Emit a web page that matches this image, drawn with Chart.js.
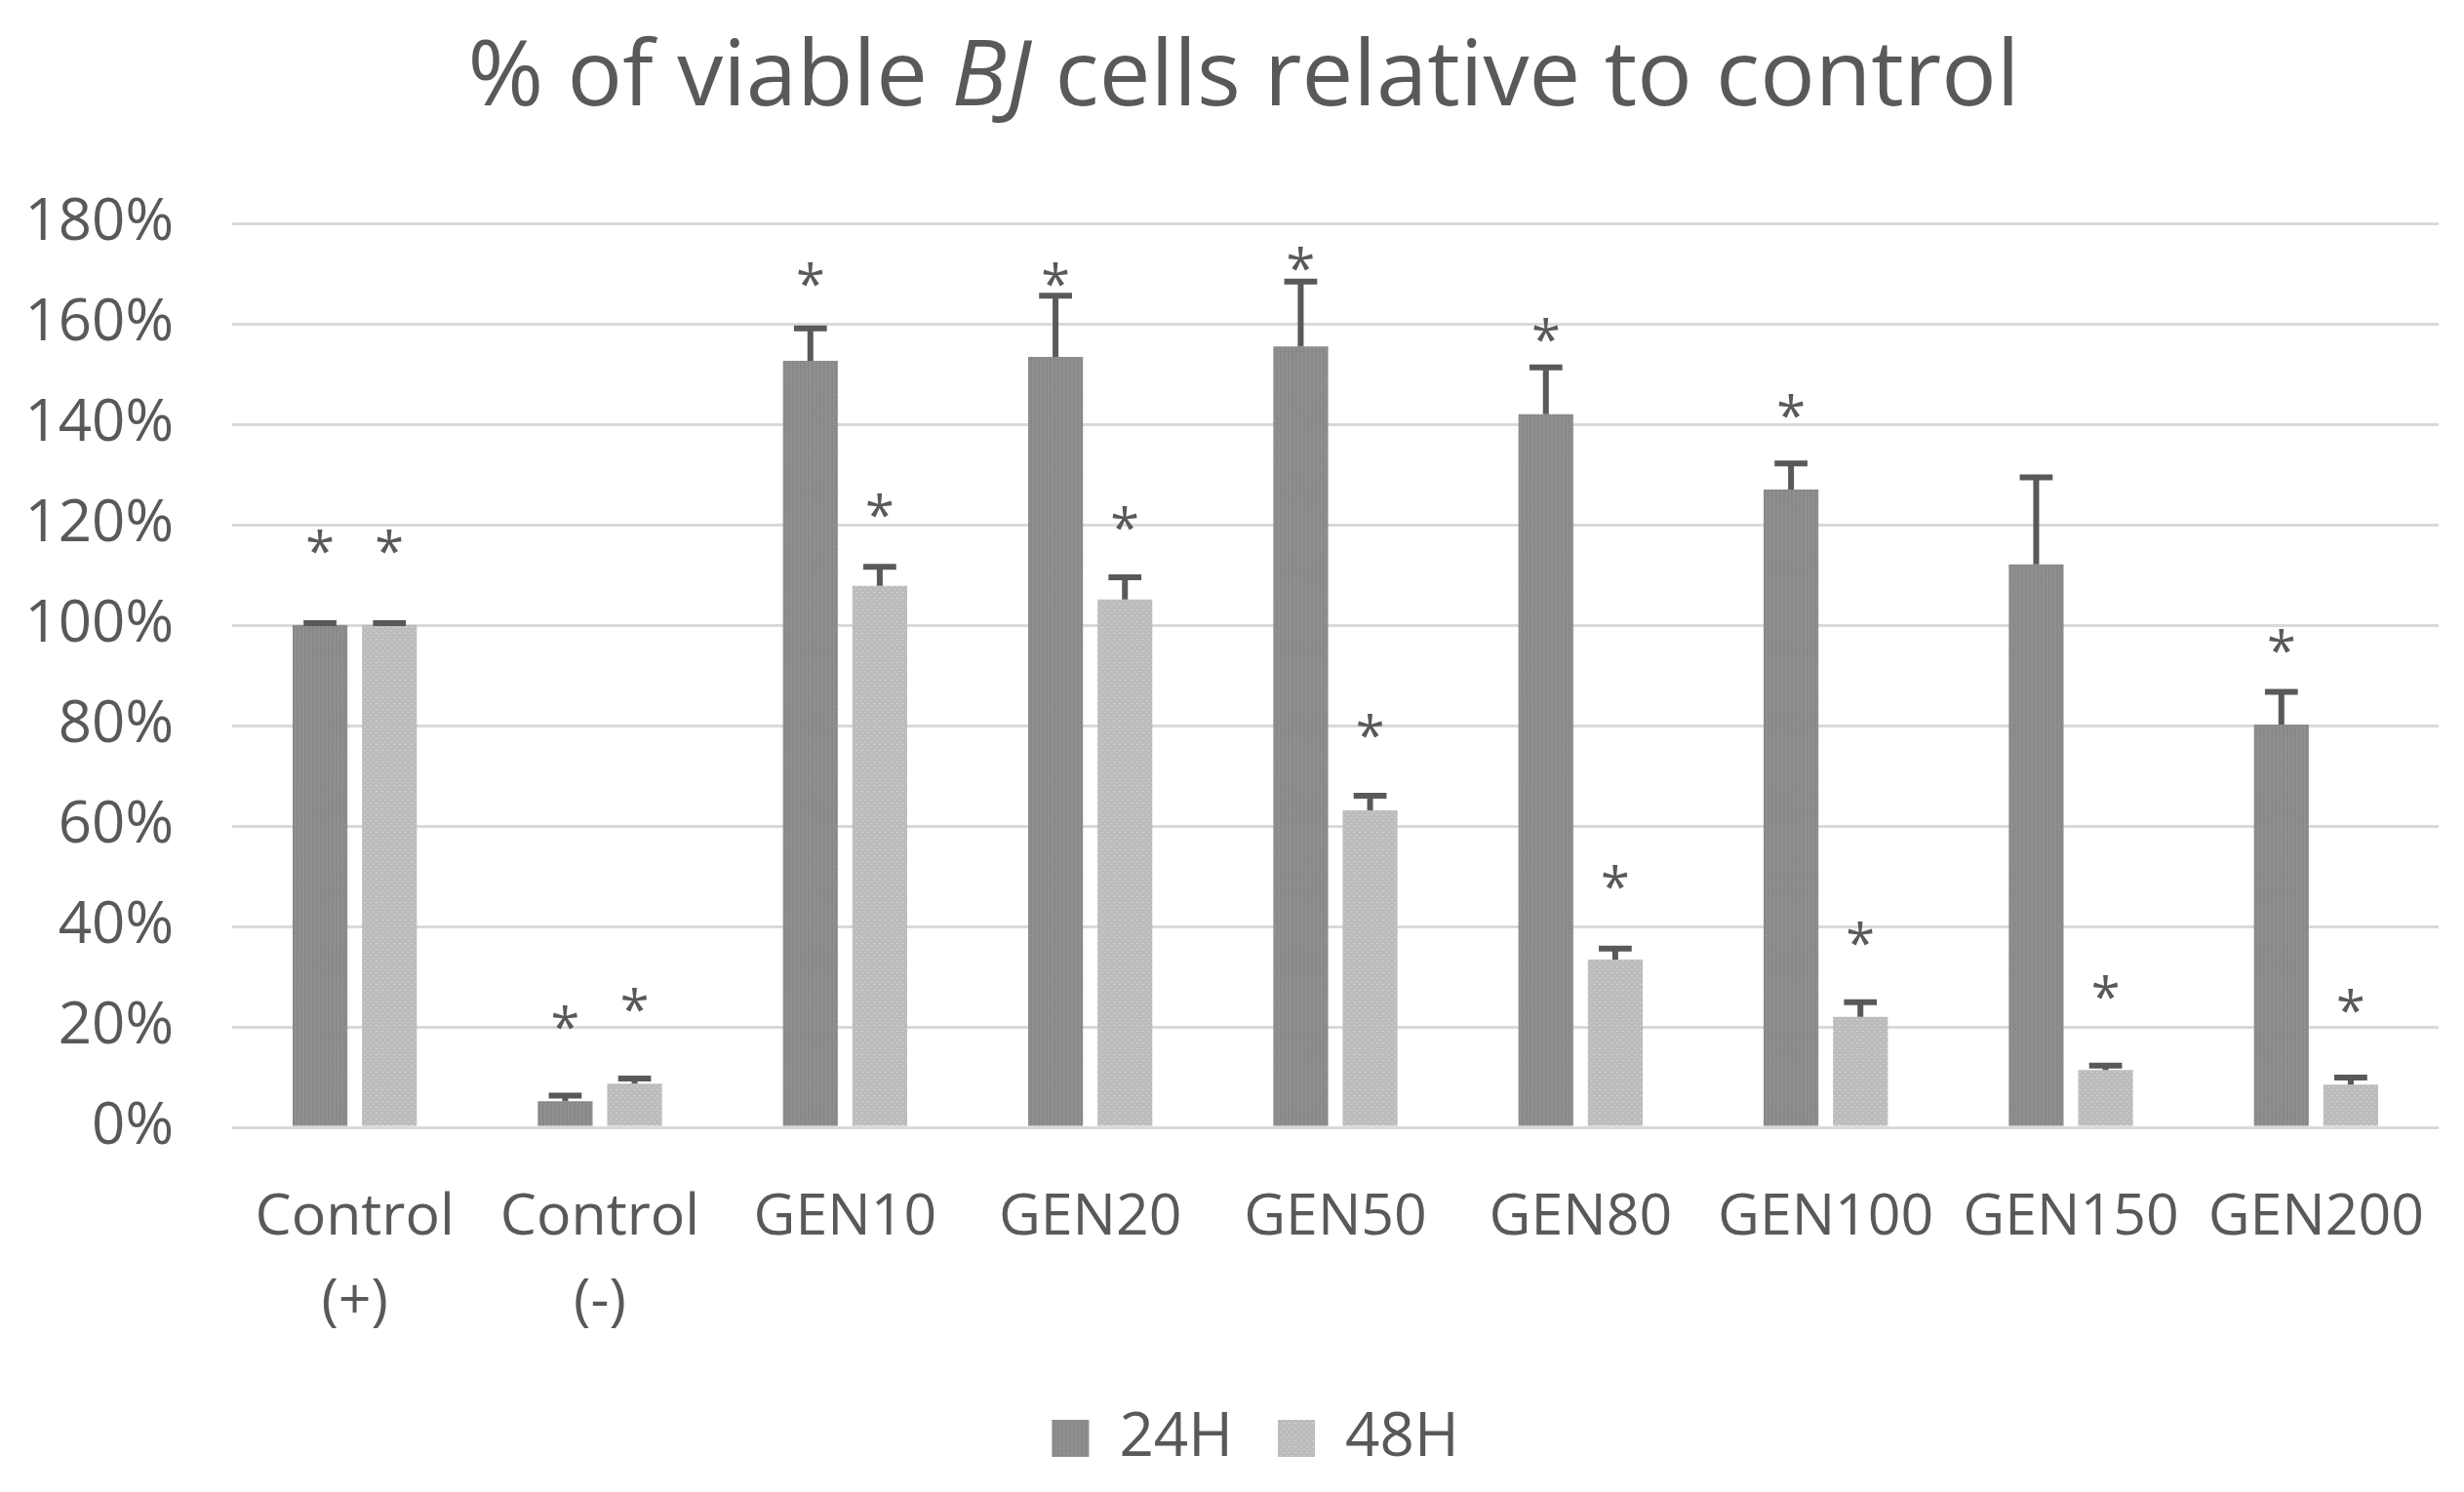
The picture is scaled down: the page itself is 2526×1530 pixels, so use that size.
<!DOCTYPE html>
<html>
<head>
<meta charset="utf-8">
<script src="https://cdn.jsdelivr.net/npm/chart.js@4.4.1/dist/chart.umd.min.js"></script>
<style>
html, body { margin: 0; padding: 0; background: #fff; }
</style>
</head>
<body>
<canvas id="viability" width="2526" height="1530"></canvas>
<script>
// data (% of control)
var groups = [['Control', '(+)'], ['Control', '(-)'], 'GEN10', 'GEN20', 'GEN50', 'GEN80', 'GEN100', 'GEN150', 'GEN200'];
var seriesNames = ['24H', '48H'];
var viability24 = [100, 5.2, 152.6, 153.4, 155.5, 142.0, 127.0, 112.1, 80.2];
var viability48 = [100, 8.7, 107.8, 105.1, 63.1, 33.4, 22.0, 11.4, 8.5];
var sd24 = [0.4, 1.1, 6.5, 12.2, 12.9, 9.3, 5.2, 17.3, 6.5];
var sd48 = [0.4, 1.0, 3.8, 4.4, 2.9, 2.2, 2.9, 0.9, 1.4];
// where the significance asterisks sit (null = none)
var star24 = [116.7, 21.9, 170, 170, 173, 158.8, 143.7, null, 96.9];
var star48 = [116.7, 25.5, 124, 121.5, 80, 50, 38.7, 28.1, 25.3];
var yTicks = [0, 20, 40, 60, 80, 100, 120, 140, 160, 180];

var textColor = '#595959';
var fontFamily = "'Open Sans', sans-serif";

function makePattern(base, dots, size){
	var c = document.createElement('canvas');
	c.width = size; c.height = size;
	var g = c.getContext('2d');
	g.fillStyle = base;
	g.fillRect(0, 0, size, size);
	for(var i = 0; i < dots.length; i++){
		g.fillStyle = dots[i][2];
		g.fillRect(dots[i][0], dots[i][1], dots[i][3] || 1, 1);
	}
	return g.createPattern(c, 'repeat');
}

var fill24 = makePattern('#8c8c8c', [[0,0,'#7e7e7e'],[2,1,'#999999'],[1,2,'#808080'],[3,3,'#979797']], 4);
var fill48 = makePattern('#bcbcbc', [[1,1,'#d2d2d2',2],[4,4,'#cbcbcb',2]], 6);

var titlePlugin = {
	id: 'mixedTitle',
	afterDraw: function(chart){
		var ctx = chart.ctx;
		var size = 94;
		var parts = [['% of viable ', 'normal'], ['BJ', 'italic'], [' cells relative to control', 'normal']];
		ctx.save();
		var total = 0;
		for(var i = 0; i < parts.length; i++){
			ctx.font = parts[i][1] + ' ' + size + 'px ' + fontFamily;
			total += ctx.measureText(parts[i][0]).width;
		}
		var x = 1275 - total / 2;
		ctx.fillStyle = textColor;
		ctx.textBaseline = 'alphabetic';
		ctx.textAlign = 'left';
		for(var j = 0; j < parts.length; j++){
			ctx.font = parts[j][1] + ' ' + size + 'px ' + fontFamily;
			ctx.fillText(parts[j][0], x, 108);
			x += ctx.measureText(parts[j][0]).width;
		}
		ctx.restore();
	}
};

// the original legend sits a little right of the canvas centre
var legendShift = {
	id: 'legendShift',
	afterLayout: function(chart){
		chart.legend.left += 29;
		chart.legend.right += 29;
	}
};

var errorBarPlugin = {
	id: 'errorBars',
	afterDatasetsDraw: function(chart){
		var ctx = chart.ctx;
		var y = chart.scales.y;
		var errs = [sd24, sd48];
		var stars = [star24, star48];
		ctx.save();
		ctx.strokeStyle = textColor;
		ctx.lineWidth = 6;
		for(var d = 0; d < chart.data.datasets.length; d++){
			var meta = chart.getDatasetMeta(d);
			var values = chart.data.datasets[d].data;
			for(var i = 0; i < meta.data.length; i++){
				var bar = meta.data[i];
				var top = y.getPixelForValue(values[i] + errs[d][i]);
				var half = bar.width * 0.3;
				ctx.beginPath();
				ctx.moveTo(bar.x, bar.y);
				ctx.lineTo(bar.x, top);
				ctx.moveTo(bar.x - half, top);
				ctx.lineTo(bar.x + half, top);
				ctx.stroke();

				if(stars[d][i] !== null){
					var sy = y.getPixelForValue(stars[d][i]);
					ctx.fillStyle = textColor;
					ctx.font = '54px ' + fontFamily;
					ctx.textAlign = 'center';
					ctx.textBaseline = 'alphabetic';
					ctx.fillText('*', bar.x, sy + 54 * 0.56);
				}
			}
		}
		ctx.restore();
	}
};

Chart.defaults.font.family = fontFamily;
Chart.defaults.color = textColor;

var chart = new Chart(document.getElementById('viability'), {
	type: 'bar',
	data: {
		labels: groups,
		datasets: [{
			label: seriesNames[0],
			data: viability24,
			backgroundColor: fill24,
			borderWidth: 0
		}, {
			label: seriesNames[1],
			data: viability48,
			backgroundColor: fill48,
			borderWidth: 0
		}]
	},
	plugins: [titlePlugin, legendShift, errorBarPlugin],
	options: {
		responsive: false,
		animation: false,
		devicePixelRatio: 1,
		categoryPercentage: 0.566,
		barPercentage: 0.79,
		layout: {
			padding: { top: 229, left: 16, right: 26, bottom: 14 }
		},
		plugins: {
			title: { display: false },
			tooltip: { enabled: false },
			legend: {
				position: 'bottom',
				labels: {
					boxWidth: 38,
					boxHeight: 38,
					padding: 46,
					font: { size: 62 },
					color: textColor
				}
			}
		},
		scales: {
			x: {
				grid: { display: false, drawTicks: false },
				border: { display: false },
				ticks: {
					padding: 50,
					font: { size: 59, lineHeight: 1.47 },
					color: textColor,
					maxRotation: 0,
					autoSkip: false
				},
				afterFit: function(axis){
					axis.paddingLeft = 0;
					axis.paddingRight = 0;
					axis.height = 242;
				}
			},
			y: {
				min: 0,
				max: 180,
				afterBuildTicks: function(axis){
					axis.ticks = yTicks.map(function(v){ return { value: v }; });
				},
				afterFit: function(axis){
					axis.width = 222;
				},
				grid: { color: '#d9d9d9', lineWidth: 3, drawTicks: false },
				border: { display: false },
				ticks: {
					padding: 60,
					font: { size: 60 },
					color: textColor,
					callback: function(v){ return v + '%'; }
				}
			}
		}
	}
});
</script>
</body>
</html>
